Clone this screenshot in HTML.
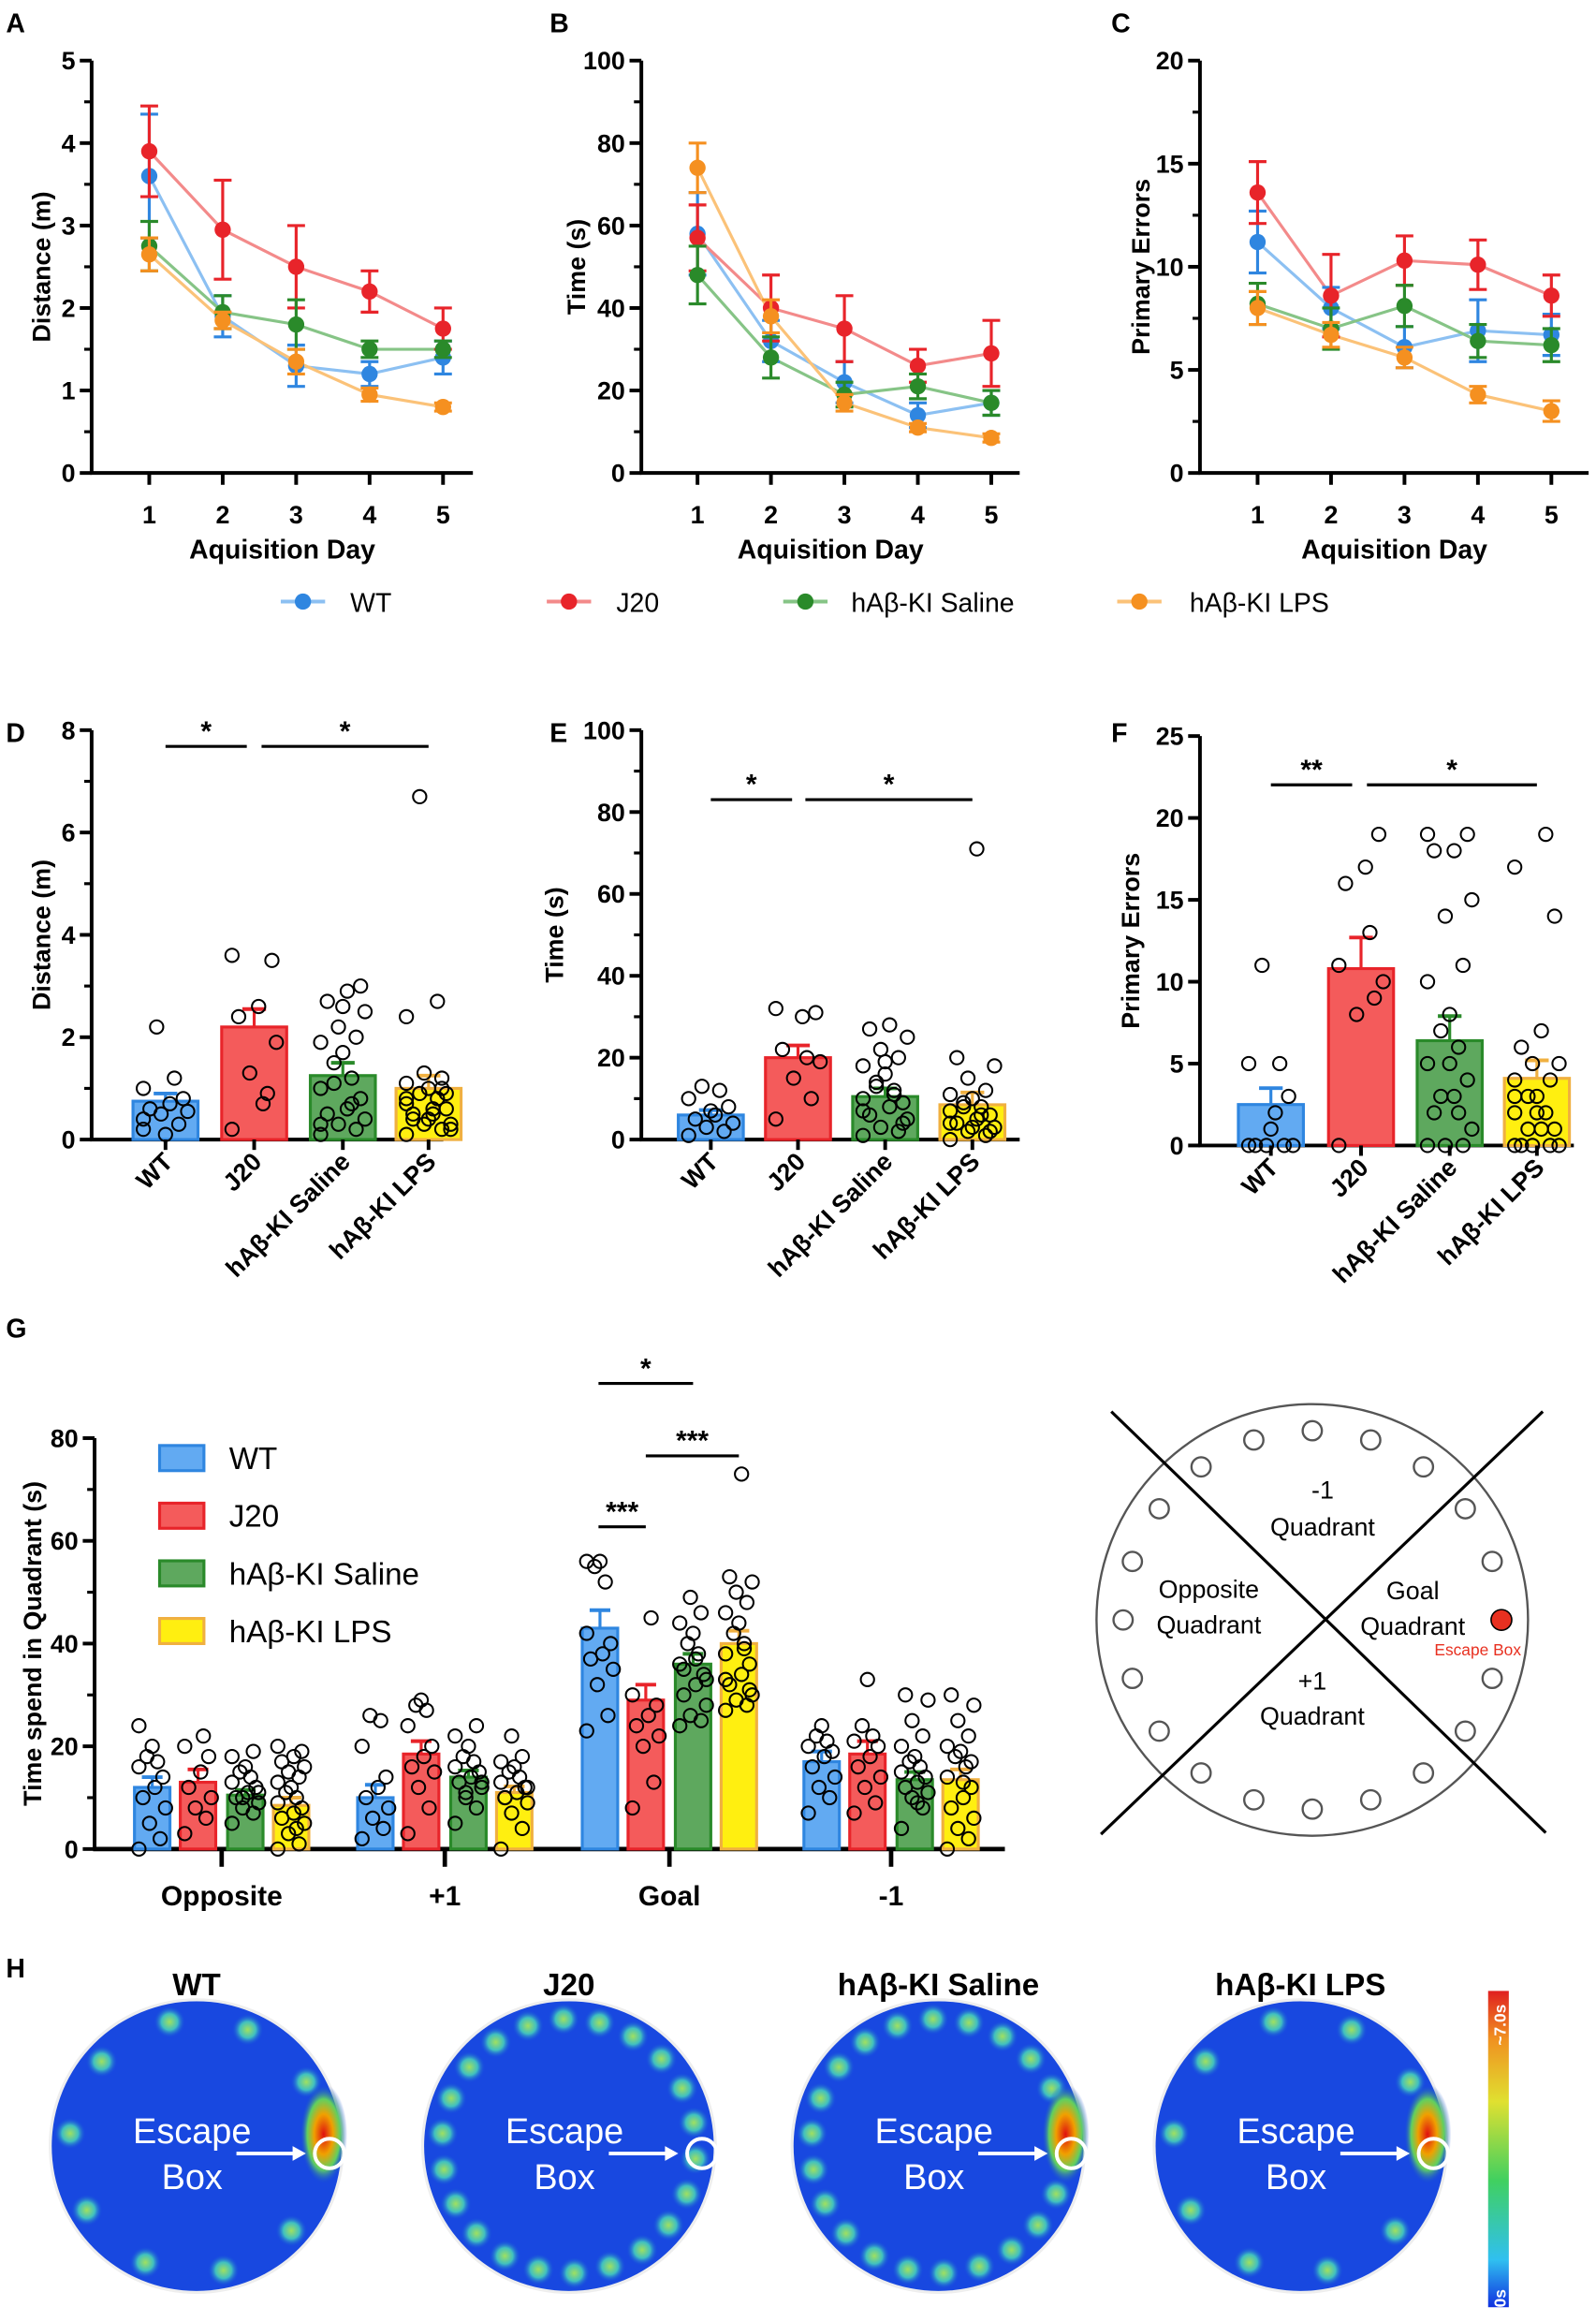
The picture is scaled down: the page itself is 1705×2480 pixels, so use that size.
<!DOCTYPE html>
<html><head><meta charset="utf-8">
<style>
html,body{margin:0;padding:0;background:#fff;}
svg{display:block;font-family:"Liberation Sans",sans-serif;}
</style></head>
<body>
<svg id="fig" width="1705" height="2480" viewBox="0 0 1080 1571" preserveAspectRatio="none" xmlns="http://www.w3.org/2000/svg">
<defs>
<radialGradient id="hot" cx="50%" cy="50%" r="50%">
<stop offset="0" stop-color="#e01010"/><stop offset="0.4" stop-color="#f0a000"/><stop offset="0.7" stop-color="#60d060"/><stop offset="1" stop-color="#1040e0" stop-opacity="0"/></radialGradient>
<radialGradient id="spot" cx="50%" cy="50%" r="50%">
<stop offset="0" stop-color="#a0e060"/><stop offset="0.5" stop-color="#40c0c0"/><stop offset="1" stop-color="#1040e0" stop-opacity="0"/></radialGradient>
<linearGradient id="cbar" x1="0" y1="1" x2="0" y2="0">
<stop offset="0" stop-color="#1030e0"/><stop offset="0.15" stop-color="#30c0f0"/><stop offset="0.4" stop-color="#40d060"/><stop offset="0.65" stop-color="#e0e030"/><stop offset="0.85" stop-color="#f09020"/><stop offset="1" stop-color="#e02020"/></linearGradient>
</defs>
</svg>
<script>
// ---------- DATA ----------
const days=[1,2,3,4,5];
const groups=["WT","J20","hAβ-KI Saline","hAβ-KI LPS"];
const distMean=[[3.6,1.9,1.3,1.2,1.4],[3.9,2.95,2.5,2.2,1.75],[2.75,1.95,1.8,1.5,1.5],[2.65,1.85,1.35,0.95,0.8]];
const distErr=[[0.75,0.25,0.25,0.15,0.2],[0.55,0.6,0.5,0.25,0.25],[0.3,0.2,0.3,0.1,0.1],[0.2,0.1,0.15,0.08,0.05]];
const timeMean=[[58,32,22,14,17],[57,40,35,26,29],[48,28,19,21,17],[74,38,17,11,8.5]];
const timeErr=[[10,5,5,3,3],[8,8,8,4,8],[7,5,3,3,3],[6,4,2,1,1]];
const errMean=[[11.2,8,6.1,6.9,6.7],[13.6,8.6,10.3,10.1,8.6],[8.2,7,8.1,6.4,6.2],[8,6.7,5.6,3.8,3]];
const errErr=[[1.5,1,1,1.5,1],[1.5,2,1.2,1.2,1],[1,1,1,0.8,0.8],[0.8,0.6,0.5,0.4,0.5]];

const probeDistMean=[0.75,2.2,1.25,1.0];
const probeDistErr=[0.15,0.35,0.25,0.25];
const probeDistPts=[[0.2,0.3,0.5,0.55,0.6,0.7,0.8,1.0,1.2,2.2,0.1,0.4],[0.2,0.9,1.3,1.9,2.4,2.6,3.5,3.6,0.7],[0.1,0.2,0.3,0.4,0.5,0.6,0.8,1.0,1.2,1.5,1.7,1.9,2.0,2.2,2.5,2.7,2.9,3.0,0.3,0.7,1.1,2.6],[0.1,0.2,0.3,0.3,0.4,0.5,0.6,0.7,0.8,0.9,1.0,1.1,1.2,1.3,0.2,0.5,0.6,0.9,2.4,2.7,6.7,0.4,0.8,1.0]];
const probeTimeMean=[6,20,10.5,8.5];
const probeTimeErr=[1.2,3,2,3];
const probeTimePts=[[1,2,3,4,5,6,8,10,12,13,7],[5,10,15,19,22,30,31,32,20],[1,2,3,5,6,8,9,10,12,14,16,18,20,22,25,27,28,4,7,11,13,19],[0,1,2,3,4,5,6,7,8,9,10,11,12,15,18,20,71,2,4,6,8,3]];
const probeErrMean=[2.5,10.8,6.4,4.1];
const probeErrErr=[1,1.9,1.5,1.1];
const probeErrPts=[[0,0,0,0,0,2,3,5,5,11,1],[0,9,8,10,16,17,19,11,13],[0,0,0,1,2,3,4,5,6,7,8,10,11,14,15,18,18,19,19,2,3,5],[0,0,0,0,0,1,1,2,2,3,3,4,4,5,5,6,7,14,17,19,1,2,3]];

const quadrants=["Opposite","+1","Goal","-1"];
const quadMean=[[12,13,10.5,8.5],[10,18.5,14,11],[43,29,36,40],[17,18.5,13.5,13.5]];
const quadErr=[[2,2.5,1,1.5],[2.5,2.5,1.3,1.2],[3.5,3,2,2.5],[2,2.5,1.5,2]];
const quadPts=[
 [[0,2,5,8,10,12,14,16,17,18,20,24],[3,6,8,10,12,15,18,20,22],[5,7,8,9,10,11,12,13,14,15,16,18,19,10,11],[0,1,3,5,6,7,8,9,10,11,12,13,14,15,16,17,18,19,20,4]],
 [[2,4,6,8,10,12,14,20,25,26],[3,8,12,15,16,18,20,24,27,28,29],[5,8,10,12,13,14,15,16,17,18,20,22,24,11,13],[0,4,7,9,10,11,12,13,14,15,16,17,18,22,12,10]],
 [[23,26,32,35,37,38,40,42,52,55,56,56],[8,13,20,22,24,26,28,30,45],[24,25,26,28,30,32,34,36,38,40,42,44,46,49,33,35,37],[27,28,29,30,32,34,36,38,40,42,44,46,48,50,52,53,73,31,33,39]],
 [[7,10,12,14,16,18,19,20,21,22,24],[7,9,12,14,16,18,20,21,22,24,33],[4,8,10,11,12,13,14,15,16,17,18,20,22,25,29,30,9],[0,2,4,6,8,10,12,14,16,18,19,20,22,25,28,30,13,17]]
];

// ---------- HELPERS ----------
const svg=document.getElementById('fig');
const NS="http://www.w3.org/2000/svg";
const colDark=["#2f86e0","#e8242a","#2a8a2a","#f59020"];
const colLine=["#8cc0f2","#f38a8a","#86c486","#fbc278"];
const barFill=["#62aaf2","#f45b5b","#5ea85e","#ffef10"];
const barStroke=["#2f86e0","#e8242a","#2a8a2a","#f0b040"];
const jitPattern=[-1,0.6,-0.2,1,-0.7,0.2,0.8,-1,0.4,-0.4,0];
function mk(tag,attrs,name,inter,parent){
 const el=document.createElementNS(NS,tag);
 for(const k in attrs) el.setAttribute(k,attrs[k]);
 
 
 (parent||svg).appendChild(el);return el;
}
function txt(x,y,s,opt,name){
 const t=mk('text',Object.assign({x:x,y:y,'font-size':16,'font-weight':'bold','text-anchor':'middle',fill:'#000'},opt||{}),name);
 t.textContent=s;return t;
}
function yAxis(x,y0,y1,ticks,max,name,title,tx,minor){
 mk('line',{x1:x,y1:y0+1,x2:x,y2:y1,stroke:'#000','stroke-width':2.5},name+'-y-axis');
 ticks.forEach(v=>{const y=y0-(y0-y1)*v/max;
  mk('line',{x1:x-8,y1:y,x2:x,y2:y,stroke:'#000','stroke-width':2.5},name+'-y-tick');
  txt(x-11,y+6,String(v),{'text-anchor':'end','font-size':17},name+'-y-tick-label');});
 if(minor) minor.forEach(v=>{const y=y0-(y0-y1)*v/max;mk('line',{x1:x-5,y1:y,x2:x,y2:y,stroke:'#000','stroke-width':2},name+'-y-minor-tick');});
 const cy=(y0+y1)/2;
 txt(tx,cy,title,{transform:`rotate(-90 ${tx} ${cy})`,'font-size':17},name+'-y-axis-title');
}
function label(x,y,s){txt(x,y,s,{'text-anchor':'start','font-size':18},'panel-label-'+s.toLowerCase());}

// ---------- LINE PANELS A-C ----------
function linePanel(name,x0,x1,xs,y0,y1,max,ticks,minor,title,tx,means,errs){
 yAxis(x0,y0,y1,ticks,max,name,title,tx,minor);
 mk('line',{x1:x0-1,y1:y0,x2:x1,y2:y0,stroke:'#000','stroke-width':2.5},name+'-x-axis');
 const X=d=>xs+(d-1)*49.7; const Y=v=>y0-(y0-y1)*v/max;
 days.forEach(d=>{mk('line',{x1:X(d),y1:y0,x2:X(d),y2:y0+8,stroke:'#000','stroke-width':2.5},name+'-x-tick');
  txt(X(d),y0+34,String(d),{'font-size':17},name+'-x-tick-label');});
 txt((x0+x1)/2,y0+58,'Aquisition Day',{'font-size':18},name+'-x-axis-title');
 means.forEach((m,g)=>{
  const pts=m.map((v,i)=>X(days[i])+','+Y(v)).join(' ');
  mk('polyline',{points:pts,fill:'none',stroke:colLine[g],'stroke-width':2},name+'-line-'+g);
 });
 means.forEach((m,g)=>{
  m.forEach((v,i)=>{const x=X(days[i]),e=errs[g][i];
   mk('line',{x1:x,y1:Y(v-e),x2:x,y2:Y(v+e),stroke:colDark[g],'stroke-width':2},name+'-errorbar');
   mk('line',{x1:x-6,y1:Y(v+e),x2:x+6,y2:Y(v+e),stroke:colDark[g],'stroke-width':2},name+'-errorcap');
   mk('line',{x1:x-6,y1:Y(v-e),x2:x+6,y2:Y(v-e),stroke:colDark[g],'stroke-width':2},name+'-errorcap');
   mk('circle',{cx:x,cy:Y(v),r:5.5,fill:colDark[g]},name+'-point');
  });
 });
}
label(4,22,'A');label(372,22,'B');label(752,22,'C');
linePanel('panel-a',62,320,101,320,41,5,[0,1,2,3,4,5],[0.5,1.5,2.5,3.5,4.5],'Distance (m)',34,distMean,distErr);
linePanel('panel-b',434,690,472,320,41,100,[0,20,40,60,80,100],[10,30,50,70,90],'Time (s)',396,timeMean,timeErr);
linePanel('panel-c',812,1075,851,320,41,20,[0,5,10,15,20],[2.5,7.5,12.5,17.5],'Primary Errors',778,errMean,errErr);
// legend
[[190,237],[370,417],[530,576],[756,805]].forEach((p,g)=>{
 mk('line',{x1:p[0],y1:407,x2:p[0]+30,y2:407,stroke:colLine[g],'stroke-width':2.5},'legend-line-'+g);
 mk('circle',{cx:p[0]+15,cy:407,r:5.5,fill:colDark[g]},'legend-marker-'+g);
 txt(p[1],414,groups[g],{'text-anchor':'start','font-size':18,'font-weight':'normal'},'legend-entry-'+g);
});

// ---------- BAR PANELS D-F ----------
function jit(i){return jitPattern[i%jitPattern.length]*15;}
function barPanel(name,x0,x1,centers,y0,y1,max,ticks,minor,title,tx,means,errs,pts){
 yAxis(x0,y0,y1,ticks,max,name,title,tx,minor);
 mk('line',{x1:x0-1,y1:y0,x2:x1,y2:y0,stroke:'#000','stroke-width':2.5},name+'-x-axis');
 const Y=v=>y0-(y0-y1)*v/max;
 centers.forEach((c,g)=>{
  const v=means[g],e=errs[g];
  mk('rect',{x:c-22,y:Y(v),width:44,height:y0-Y(v),fill:barFill[g],stroke:barStroke[g],'stroke-width':2},name+'-bar-'+g);
  mk('line',{x1:c,y1:Y(v),x2:c,y2:Y(v+e),stroke:barStroke[g],'stroke-width':2},name+'-errorbar');
  mk('line',{x1:c-8,y1:Y(v+e),x2:c+8,y2:Y(v+e),stroke:barStroke[g],'stroke-width':2.5},name+'-errorcap');
  pts[g].forEach((p,i)=>mk('circle',{cx:c+jit(i),cy:Y(p),r:4.5,fill:'none',stroke:'#000','stroke-width':1.3},name+'-dot'));
  mk('line',{x1:c,y1:y0,x2:c,y2:y0+7,stroke:'#000','stroke-width':2.5},name+'-x-tick');
  const lx=c+6,ly=y0+16;
  txt(lx,ly,groups[g],{'text-anchor':'end','font-size':17,transform:`rotate(-45 ${lx} ${ly})`},name+'-x-tick-label');
 });
}
label(4,502,'D');label(372,502,'E');label(752,502,'F');
barPanel('panel-d',62,300,[112,172,232,290],771,494,8,[0,2,4,6,8],[1,3,5,7],'Distance (m)',34,probeDistMean,probeDistErr,probeDistPts);
barPanel('panel-e',434,690,[481,540,599,658],771,494,100,[0,20,40,60,80,100],[10,30,50,70,90],'Time (s)',381,probeTimeMean,probeTimeErr,probeTimePts);
barPanel('panel-f',812,1065,[860,921,981,1040],775,498,25,[0,5,10,15,20,25],[],'Primary Errors',771,probeErrMean,probeErrErr,probeErrPts);
function sig(x1,x2,y,s,name){mk('line',{x1:x1,y1:y,x2:x2,y2:y,stroke:'#000','stroke-width':2},name+'-line');txt((x1+x2)/2,y-4,s,{'font-size':19},name+'-stars');}
sig(112,167,505,'*','sig-d-1');sig(177,290,505,'*','sig-d-2');
sig(481,536,541,'*','sig-e-1');sig(545,658,541,'*','sig-e-2');
sig(860,915,531,'**','sig-f-1');sig(925,1040,531,'*','sig-f-2');

// ---------- PANEL G ----------
label(4,905,'G');
(function(){
 const y0=1251,y1=973,max=80,x0=64,x1=680;
 const Y=v=>y0-(y0-y1)*v/max;
 yAxis(x0,y0,y1,[0,20,40,60,80],max,'panel-g','Time spend in Quadrant (s)',28,[10,30,50,70]);
 mk('line',{x1:x0-1,y1:y0,x2:x1,y2:y0,stroke:'#000','stroke-width':3},'panel-g-x-axis');
 const qc=[150,301,453,603],off=[-47,-16,16,47];
 quadrants.forEach((q,qi)=>{
  mk('line',{x1:qc[qi],y1:y0,x2:qc[qi],y2:y0+12,stroke:'#000','stroke-width':3},'panel-g-x-tick');
  txt(qc[qi],y0+38,q,{'font-size':19},'panel-g-x-tick-label');
  [0,1,2,3].forEach(g=>{
   const c=qc[qi]+off[g],v=quadMean[qi][g],e=quadErr[qi][g];
   mk('rect',{x:c-12,y:Y(v),width:24,height:y0-Y(v),fill:barFill[g],stroke:barStroke[g],'stroke-width':2},'panel-g-bar');
   mk('line',{x1:c,y1:Y(v),x2:c,y2:Y(v+e),stroke:barStroke[g],'stroke-width':2},'panel-g-errorbar');
   mk('line',{x1:c-7,y1:Y(v+e),x2:c+7,y2:Y(v+e),stroke:barStroke[g],'stroke-width':2.5},'panel-g-errorcap');
   quadPts[qi][g].forEach((p,i)=>mk('circle',{cx:c+jitPattern[i%jitPattern.length]*9,cy:Y(p),r:4.5,fill:'none',stroke:'#000','stroke-width':1.3},'panel-g-dot'));
  });
 });
 [978,1017,1056,1095].forEach((y,g)=>{
  mk('rect',{x:108,y:y,width:30,height:17,fill:barFill[g],stroke:barStroke[g],'stroke-width':2},'panel-g-legend-swatch');
  txt(155,y+16,groups[g],{'text-anchor':'start','font-size':21,'font-weight':'normal'},'panel-g-legend-entry');
 });
 sig(405,469,936,'*','sig-g-1');sig(437,500,985,'***','sig-g-2');sig(405,437,1033,'***','sig-g-3');
 // maze diagram
 const cx=888,cy=1096;
 mk('circle',{cx:cx,cy:cy,r:146,fill:'none',stroke:'#555','stroke-width':1.5},'maze-outline');
 for(let i=0;i<20;i++){const a=i*Math.PI*2/20;
  mk('circle',{cx:cx+128*Math.cos(a),cy:cy+128*Math.sin(a),r:6.5,fill:'#fff',stroke:'#555','stroke-width':1.5},'maze-hole');}
 mk('circle',{cx:cx+128,cy:cy,r:7,fill:'#e83020',stroke:'#000','stroke-width':1},'escape-box-hole');
 mk('line',{x1:752,y1:955,x2:1046,y2:1240,stroke:'#000','stroke-width':2},'maze-divider');
 mk('line',{x1:1044,y1:955,x2:745,y2:1241,stroke:'#000','stroke-width':2},'maze-divider');
 const ql=[[895,1014,'-1'],[895,1039,'Quadrant'],[818,1081,'Opposite'],[818,1105,'Quadrant'],[956,1082,'Goal'],[956,1106,'Quadrant'],[888,1143,'+1'],[888,1167,'Quadrant']];
 ql.forEach(l=>txt(l[0],l[1],l[2],{'font-weight':'normal','font-size':17},'maze-quadrant-label'));
 txt(1000,1120,'Escape Box',{'font-weight':'normal','font-size':11,fill:'#e83020'},'maze-escape-box-label');
})();

// ---------- PANEL H ----------
label(4,1338,'H');
const heatTitles=["WT","J20","hAβ-KI Saline","hAβ-KI LPS"];
const heatCx=[133,385,635,880];
heatCx.forEach((cx,k)=>{
 const cy=1452,r=98;
 txt(cx,1350,heatTitles[k],{'font-size':21},'heatmap-title');
 mk('circle',{cx:cx,cy:cy,r:r+2,fill:'#eee'},'heatmap-rim');
 mk('circle',{cx:cx,cy:cy,r:r,fill:'#1848e0'},'heatmap-arena');
 const n=k==1||k==2?22:10;
 for(let i=0;i<n;i++){const a=i*Math.PI*2/n+0.1;
  mk('circle',{cx:cx+(r-12)*Math.cos(a),cy:cy+(r-12)*Math.sin(a),r:11,fill:'url(#spot)'},'heatmap-spot');}
 if(k!=1) mk('ellipse',{cx:cx+86,cy:cy-8,rx:16,ry:34,fill:'url(#hot)'},'heatmap-hotspot');
 txt(cx-3,cy-2,'Escape',{'font-weight':'normal','font-size':24,fill:'#fff'},'heatmap-escape-label');
 txt(cx-3,cy+29,'Box',{'font-weight':'normal','font-size':24,fill:'#fff'},'heatmap-box-label');
 mk('line',{x1:cx+27,y1:cy+5,x2:cx+68,y2:cy+5,stroke:'#fff','stroke-width':2.5},'heatmap-arrow');
 mk('path',{d:`M${cx+74} ${cy+5} l-9 -5 v10 z`,fill:'#fff'},'heatmap-arrowhead');
 mk('circle',{cx:cx+90,cy:cy+5,r:10,fill:'none',stroke:'#fff','stroke-width':2.5},'heatmap-escape-circle');
});
mk('rect',{x:1007,y:1347,width:14,height:214,fill:'url(#cbar)'},'colorbar');
txt(1014,1365,'~7.0s',{transform:'rotate(-90 1019 1365)','font-size':11,fill:'#fff'},'colorbar-max-label');
txt(1019,1555,'0s',{transform:'rotate(-90 1019 1555)','font-size':11,fill:'#fff'},'colorbar-min-label');
</script>
</body></html>
